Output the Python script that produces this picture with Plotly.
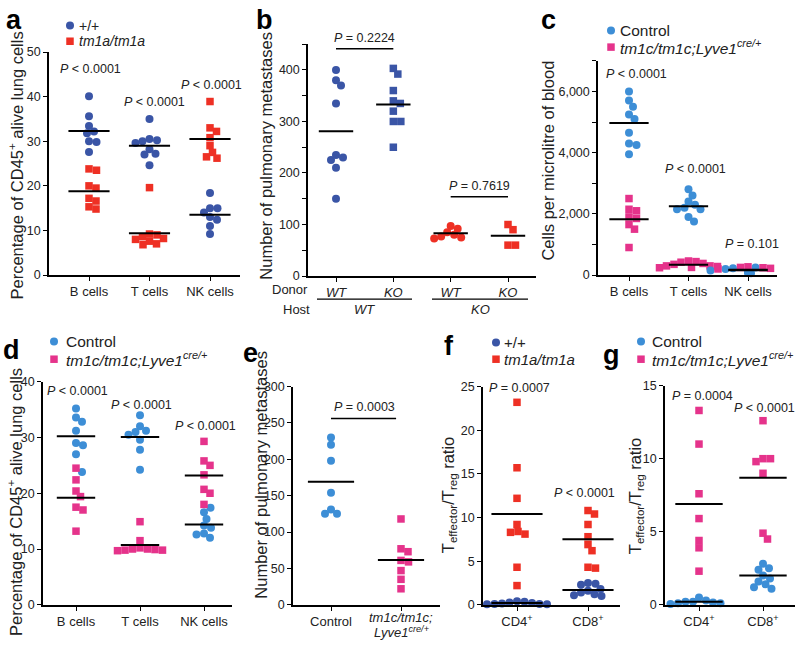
import plotly.graph_objects as go

W, H = 800, 647
FONT = "Liberation Sans, Arial, Helvetica, sans-serif"
DBLUE = "#3a55a6"
RED = "#ee3024"
LBLUE = "#3d8ed6"
PINK = "#e5338b"

# ---------------- data ----------------
# panel a: % CD45+ alive lung cells
a_cats = ["B cells", "T cells", "NK cells"]
a_wt = [[40.1, 35.6, 33.4, 32.2, 31.8, 30.0, 29.8, 27.6],
        [35.0, 30.5, 30.2, 30.0, 29.6, 28.2, 27.2, 27.0, 24.6],
        [18.4, 15.0, 15.0, 14.0, 13.0, 12.4, 11.0, 9.2]]
a_wt_mean = [32.3, 29.0, 13.5]
a_mut = [[23.8, 23.5, 20.0, 19.5, 17.2, 16.6, 15.3, 14.8],
         [19.6, 9.2, 9.0, 8.6, 8.2, 8.0, 7.6, 7.0, 6.8],
         [38.9, 33.0, 32.2, 30.8, 29.0, 27.5, 26.5, 26.2]]
a_mut_mean = [18.8, 9.4, 30.5]
a_p = ["<i>P</i> < 0.0001", "<i>P</i> < 0.0001", "<i>P</i> < 0.0001"]
a_p_y = [46.3, 38.9, 42.5]

# panel b: pulmonary metastases, donor/host
b_donor = ["WT", "KO", "WT", "KO"]
b_host = ["WT", "KO"]
b_vals = [[400, 380, 370, 335, 235, 230, 225, 210, 150],
          [403, 392, 360, 340, 335, 320, 300, 300, 250],
          [97, 92, 85, 80, 77, 75, 73],
          [100, 90, 60, 60]]
b_means = [281, 333, 83, 78]
b_p = ["<i>P</i> = 0.2224", "<i>P</i> = 0.7619"]

# panel c: cells per microlitre of blood
c_cats = ["B cells", "T cells", "NK cells"]
c_ctrl = [[6000, 5700, 5500, 5250, 5100, 4650, 4300, 4250, 3950],
          [2800, 2600, 2400, 2300, 2200, 2150, 2150, 1900, 1750],
          [250, 220, 200, 150, 120, 100, 80, 60, 200]]
c_ctrl_mean = [4970, 2250, 160]
c_ko = [[2500, 2150, 2100, 1900, 1850, 1650, 1500, 900],
        [460, 420, 380, 350, 300, 280, 250, 240, 300, 440],
        [270, 240, 220, 200, 180, 250]]
c_ko_mean = [1820, 340, 170]
c_p = ["<i>P</i> < 0.0001", "<i>P</i> < 0.0001", "<i>P</i> = 0.101"]
c_p_y = [6560, 3460, 1020]

# panel d: % CD45+ alive lung cells (Lyve1-cre)
d_cats = ["B cells", "T cells", "NK cells"]
d_ctrl = [[35.2, 33.6, 32.8, 31.2, 29.0, 28.6, 27.0, 23.8],
          [34.0, 32.0, 31.2, 31.0, 30.5, 29.6, 27.8, 24.2],
          [17.4, 16.6, 15.4, 14.2, 13.8, 12.8, 12.6, 12.0]]
d_ctrl_mean = [30.2, 30.1, 14.4]
d_ko = [[24.5, 22.4, 20.4, 19.4, 17.5, 17.0, 13.2],
        [14.9, 11.5, 10.2, 10.0, 9.9, 9.8, 9.7, 9.8, 10.0],
        [29.3, 25.8, 25.0, 23.3, 20.7, 20.0, 18.0]]
d_ko_mean = [19.2, 10.7, 23.2]
d_p = ["<i>P</i> < 0.0001", "<i>P</i> < 0.0001", "<i>P</i> < 0.0001"]
d_p_y = [38.4, 35.8, 32.1]

# panel e: pulmonary metastases (Lyve1-cre)
e_cats = ["Control", "<i>tm1c/tm1c;</i>", "<i>Lyve1</i><sup><i>cre/+</i></sup>"]
e_ctrl = [230, 220, 198, 154, 131, 125, 125]
e_ko = [118, 77, 73, 61, 59, 47, 35, 22]
e_means = [169, 61.5]
e_p = "<i>P</i> = 0.0003"

# panel f: Teffector/Treg ratio (tm1a)
f_cats = ["CD4<sup>+</sup>", "CD8<sup>+</sup>"]
f_wt = [[0.35, 0.25, 0.15, 0.1, 0.05, 0.05, 0.1, 0.2, 0.4],
        [2.5, 2.4, 2.3, 1.8, 1.6, 1.4, 1.2, 1.0, 1.1]]
f_wt_mean = [0.2, 1.7]
f_mut = [[23.2, 15.7, 12.2, 9.2, 8.4, 8.3, 8.1, 4.3, 2.2],
         [10.8, 10.4, 9.2, 7.8, 6.9, 6.2, 4.3, 4.2]]
f_mut_mean = [10.4, 7.5]
f_p = ["<i>P</i> = 0.0007", "<i>P</i> < 0.0001"]
f_p_y = [24.8, 12.8]

# panel g: Teffector/Treg ratio (Lyve1-cre)
g_cats = ["CD4<sup>+</sup>", "CD8<sup>+</sup>"]
g_ctrl = [[0.3, 0.2, 0.15, 0.1, 0.05, 0.1, 0.2, 0.5],
          [2.8, 2.5, 2.4, 2.0, 1.8, 1.6, 1.4, 1.1, 1.2]]
g_ctrl_mean = [0.2, 2.0]
g_ko = [[13.3, 11.0, 7.6, 5.9, 4.4, 3.9, 2.3],
        [12.6, 10.0, 9.8, 10.0, 9.0, 4.9, 4.5]]
g_ko_mean = [6.9, 8.7]
g_p = ["<i>P</i> = 0.0004", "<i>P</i> < 0.0001"]
g_p_y = [14.3, 13.5]

# ---------------- helpers ----------------
fig = go.Figure()
layout = {}
annotations = []
shapes = []
TXT = "#222"


def px_x(p):
    return p / W


def px_y(p):
    return 1 - p / H


def setup_axes(n, left, right, top, bottom, cat_px, yrange, ytickvals, yticktext,
               xticktext, xfs=13, yfs=12.5):
    sp = (cat_px[-1] - cat_px[0]) / (len(cat_px) - 1)
    xr = [(left - cat_px[0]) / sp, (right - cat_px[0]) / sp]
    sfx = "" if n == 1 else str(n)
    common = dict(showline=True, linecolor="black", linewidth=1.5, ticks="outside",
                  ticklen=4, tickwidth=1.3, tickcolor="black", showgrid=False,
                  zeroline=False, fixedrange=True)
    layout["xaxis" + sfx] = dict(domain=[px_x(left), px_x(right)], range=xr,
                                 tickvals=list(range(len(cat_px))), ticktext=xticktext,
                                 anchor="y" + sfx,
                                 tickfont=dict(family=FONT, size=xfs, color=TXT),
                                 **common)
    layout["yaxis" + sfx] = dict(domain=[px_y(bottom), px_y(top)], range=yrange,
                                 tickvals=ytickvals, ticktext=yticktext, anchor="x" + sfx,
                                 tickfont=dict(family=FONT, size=yfs, color=TXT),
                                 **common)
    ppu_y = (bottom - top) / (yrange[1] - yrange[0])
    return sp, ppu_y


def swarm(groups, ppu_x, ppu_y, d=7.2):
    """deterministic beeswarm; groups: list of value lists sharing one category"""
    pts = []
    for gi, vals in enumerate(groups):
        for vi, v in enumerate(vals):
            pts.append((v, gi, vi))
    pts.sort(key=lambda t: -t[0])
    placed = []
    offs = [[0.0] * len(g) for g in groups]
    cands = [0.0]
    k = 1
    while k < 80:
        cands += [k * 0.5, -k * 0.5]
        k += 1
    for v, gi, vi in pts:
        y = v * ppu_y
        for c in cands:
            if all((c - px) ** 2 + (y - py) ** 2 >= d * d for px, py in placed):
                placed.append((c, y))
                offs[gi][vi] = c / ppu_x
                break
    return offs


def add_points(n, cat, vals, offs, color, symbol):
    sfx = "" if n == 1 else str(n)
    fig.add_trace(go.Scatter(
        x=[cat + o for o in offs], y=vals, mode="markers", xaxis="x" + sfx, yaxis="y" + sfx,
        marker=dict(color=color, symbol=symbol, size=8 if symbol == "circle" else 7.5,
                    line=dict(width=0)),
        cliponaxis=False, showlegend=False, hoverinfo="skip"))


def add_mean(n, cat, m, hw):
    sfx = "" if n == 1 else str(n)
    fig.add_trace(go.Scatter(
        x=[cat - hw, cat + hw], y=[m, m], mode="lines", xaxis="x" + sfx, yaxis="y" + sfx,
        line=dict(color="black", width=2), cliponaxis=False, showlegend=False,
        hoverinfo="skip"))


def ann(n, x, y, text, size=12.5):
    sfx = "" if n == 1 else str(n)
    annotations.append(dict(x=x, y=y, xref="x" + sfx, yref="y" + sfx, text=text,
                            xanchor="center", yanchor="middle",
                            showarrow=False, font=dict(family=FONT, size=size, color=TXT)))


def pann(x, y, text, size=13, xanchor="center", **kw):
    d = dict(x=px_x(x), y=px_y(y), xref="paper", yref="paper", text=text,
             xanchor=xanchor, yanchor="middle",
             showarrow=False, font=dict(family=FONT, size=size, color=TXT))
    d.update(kw)
    annotations.append(d)


def ytitle(x, y, text, size=16.5):
    pann(x, y, text, size=size, textangle=-90)


def letter(x, y, t):
    annotations.append(dict(x=px_x(x), y=px_y(y), xref="paper", yref="paper",
                            text="<b>" + t + "</b>", showarrow=False,
                            xanchor="center", yanchor="middle",
                            font=dict(family=FONT, size=27, color="black")))


# ---------------- panel a ----------------
sx, sy = setup_axes(1, 49, 240, 46, 274, [89, 147, 210], [0, 50],
                    list(range(0, 51, 10)), [str(v) for v in range(0, 51, 10)], a_cats)
for i in range(3):
    offs = swarm([a_wt[i], a_mut[i]], sx, sy)
    add_points(1, i, a_wt[i], offs[0], DBLUE, "circle")
    add_points(1, i, a_mut[i], offs[1], RED, "square")
    add_mean(1, i, a_wt_mean[i], 0.34)
    add_mean(1, i, a_mut_mean[i], 0.34)
    ann(1, i + (0.08 if i == 1 else 0.02), a_p_y[i], a_p[i])
ytitle(17, 162, "Percentage of CD45<sup>+</sup> alive lung cells")
letter(14, 13, "a")

# ---------------- panel b ----------------
sx, sy = setup_axes(2, 308, 536, 38, 275, [336, 393, 450, 508], [0, 450],
                    list(range(0, 451, 50)),
                    [str(v) if v % 100 == 0 else "" for v in range(0, 451, 50)],
                    ["<i>" + t + "</i>" for t in b_donor])
b_colors = [DBLUE, DBLUE, RED, RED]
b_syms = ["circle", "square", "circle", "square"]
for i in range(4):
    offs = swarm([b_vals[i]], sx, sy)
    add_points(2, i, b_vals[i], offs[0], b_colors[i], b_syms[i])
    add_mean(2, i, b_means[i], 0.3)
pann(364, 32, b_p[0], size=12.5)
ann(2, 2.5, 175, b_p[1])
shapes.append(dict(type="line", xref="x2", yref="y2", x0=0, x1=1, y0=441, y1=441,
                   line=dict(color="black", width=1.5)))
shapes.append(dict(type="line", xref="x2", yref="y2", x0=2, x1=3, y0=154, y1=154,
                   line=dict(color="black", width=1.5)))
pann(290, 289, "Donor")
pann(296, 309, "Host")
pann(364, 309, "<i>" + b_host[0] + "</i>")
pann(480, 309, "<i>" + b_host[1] + "</i>")
for x0, x1 in [(317, 412), (432, 528)]:
    shapes.append(dict(type="line", xref="paper", yref="paper", x0=px_x(x0), x1=px_x(x1),
                       y0=px_y(298.5), y1=px_y(298.5), line=dict(color="black", width=1.3)))
ytitle(266, 152, "Number of pulmonary metastases")
letter(264, 13, "b")

# ---------------- panel c ----------------
sx, sy = setup_axes(3, 598, 777, 55, 274, [629, 688, 748], [0, 7000],
                    list(range(0, 7001, 1000)),
                    ["{:,}".format(v) if v % 2000 == 0 else "" for v in range(0, 7001, 1000)],
                    c_cats)
for i in range(3):
    offs = swarm([c_ctrl[i], c_ko[i]], sx, sy)
    add_points(3, i, c_ctrl[i], offs[0], LBLUE, "circle")
    add_points(3, i, c_ko[i], offs[1], PINK, "square")
    add_mean(3, i, c_ctrl_mean[i], 0.33)
    add_mean(3, i, c_ko_mean[i], 0.33)
    ann(3, i + (0.12 if i < 2 else 0.06), c_p_y[i], c_p[i])
ytitle(548, 157, "Cells per microlitre of blood")
letter(548, 13, "c")

# ---------------- panel d ----------------
sx, sy = setup_axes(4, 43, 232, 383, 611, [76, 138, 204], [0, 40],
                    list(range(0, 41, 10)), [str(v) for v in range(0, 41, 10)], d_cats)
for i in range(3):
    offs = swarm([d_ctrl[i], d_ko[i]], sx, sy)
    add_points(4, i, d_ctrl[i], offs[0], LBLUE, "circle")
    add_points(4, i, d_ko[i], offs[1], PINK, "square")
    add_mean(4, i, d_ctrl_mean[i], 0.3)
    add_mean(4, i, d_ko_mean[i], 0.3)
    ann(4, i + 0.03, d_p_y[i], d_p[i])
ytitle(15, 506, "Percentage of CD45<sup>+</sup> alive lung cells")
letter(11, 351, "d")

# ---------------- panel e ----------------
sx, sy = setup_axes(5, 293, 440, 388, 611, [331, 401], [0, 300],
                    list(range(0, 301, 50)), [str(v) for v in range(0, 301, 50)],
                    [e_cats[0], ""])
offs = swarm([e_ctrl], sx, sy)
add_points(5, 0, e_ctrl, offs[0], LBLUE, "circle")
offs = swarm([e_ko], sx, sy)
add_points(5, 1, e_ko, offs[0], PINK, "square")
add_mean(5, 0, e_means[0], 0.33)
add_mean(5, 1, e_means[1], 0.33)
ann(5, 0.48, 272, e_p)
shapes.append(dict(type="line", xref="x5", yref="y5", x0=0.0, x1=0.93, y0=256, y1=256,
                   line=dict(color="black", width=1.5)))
pann(401, 624, e_cats[1])
pann(401, 639, e_cats[2])
ytitle(261, 478, "Number of pulmonary metastases")
letter(250, 354, "e")

# ---------------- panel f ----------------
sx, sy = setup_axes(6, 483, 620, 388, 611, [517, 588], [0, 25],
                    list(range(0, 26, 5)), [str(v) for v in range(0, 26, 5)], f_cats)
for i in range(2):
    offs = swarm([f_wt[i], f_mut[i]], sx, sy)
    add_points(6, i, f_wt[i], offs[0], DBLUE, "circle")
    add_points(6, i, f_mut[i], offs[1], RED, "square")
    add_mean(6, i, f_wt_mean[i], 0.36)
    add_mean(6, i, f_mut_mean[i], 0.36)
    ann(6, i + (0.04 if i == 0 else -0.05), f_p_y[i], f_p[i])
ytitle(449, 499, "T<sub>effector</sub>/T<sub>reg</sub> ratio")
letter(449, 347, "f")

# ---------------- panel g ----------------
sx, sy = setup_axes(7, 665, 795, 387, 611, [699, 763], [0, 15],
                    list(range(0, 16, 5)), [str(v) for v in range(0, 16, 5)], g_cats)
for i in range(2):
    offs = swarm([g_ctrl[i], g_ko[i]], sx, sy)
    add_points(7, i, g_ctrl[i], offs[0], LBLUE, "circle")
    add_points(7, i, g_ko[i], offs[1], PINK, "square")
    add_mean(7, i, g_ctrl_mean[i], 0.37)
    add_mean(7, i, g_ko_mean[i], 0.37)
    ann(7, i + (0.05 if i == 0 else 0.03), g_p_y[i], g_p[i])
ytitle(636, 500, "T<sub>effector</sub>/T<sub>reg</sub> ratio")
letter(611, 356, "g")

# ---------------- legends (overlay pixel axis) ----------------
layout["xaxis8"] = dict(domain=[0, 1], range=[0, W], visible=False, fixedrange=True,
                        anchor="y8")
layout["yaxis8"] = dict(domain=[0, 1], range=[H, 0], visible=False, fixedrange=True,
                        anchor="x8")
legends = [
    # (marker x, y, text x, size, label, color, symbol)
    (70, 19, 77, 14, "+/+", DBLUE, "circle"),
    (70, 35, 77, 14, "<i>tm1a/tm1a</i>", RED, "square"),
    (611, 24, 618, 15.5, "Control", LBLUE, "circle"),
    (611, 41, 618, 15.5, "<i>tm1c/tm1c;Lyve1</i><sup><i>cre/+</i></sup>", PINK, "square"),
    (54, 342, 64, 15.5, "Control", LBLUE, "circle"),
    (54, 360, 64, 15.5, "<i>tm1c/tm1c;Lyve1</i><sup><i>cre/+</i></sup>", PINK, "square"),
    (496, 343, 502, 15, "+/+", DBLUE, "circle"),
    (496, 360, 502, 15, "<i>tm1a/tm1a</i>", RED, "square"),
    (641, 342, 650, 15.5, "Control", LBLUE, "circle"),
    (641, 360, 650, 15.5, "<i>tm1c/tm1c;Lyve1</i><sup><i>cre/+</i></sup>", PINK, "square"),
]
for mx, my, tx, fs, lab, col, sym in legends:
    fig.add_trace(go.Scatter(x=[mx], y=[my], xaxis="x8", yaxis="y8", mode="markers",
                             marker=dict(color=col, symbol=sym, size=8 if sym == "circle" else 7.5),
                             showlegend=False, hoverinfo="skip", cliponaxis=False))
    pann(tx, my, lab, size=fs, xanchor="left")

fig.update_layout(
    width=W, height=H, margin=dict(l=0, r=0, t=0, b=0), autosize=False,
    paper_bgcolor="white", plot_bgcolor="rgba(0,0,0,0)", showlegend=False,
    font=dict(family=FONT, color=TXT),
    annotations=annotations, shapes=shapes, **layout)

fig.write_html(
    "out.html",
    config={"displayModeBar": False},
    post_script="document.body.style.margin='0px';document.body.style.padding='0px';"
                "document.body.style.overflow='hidden';")
